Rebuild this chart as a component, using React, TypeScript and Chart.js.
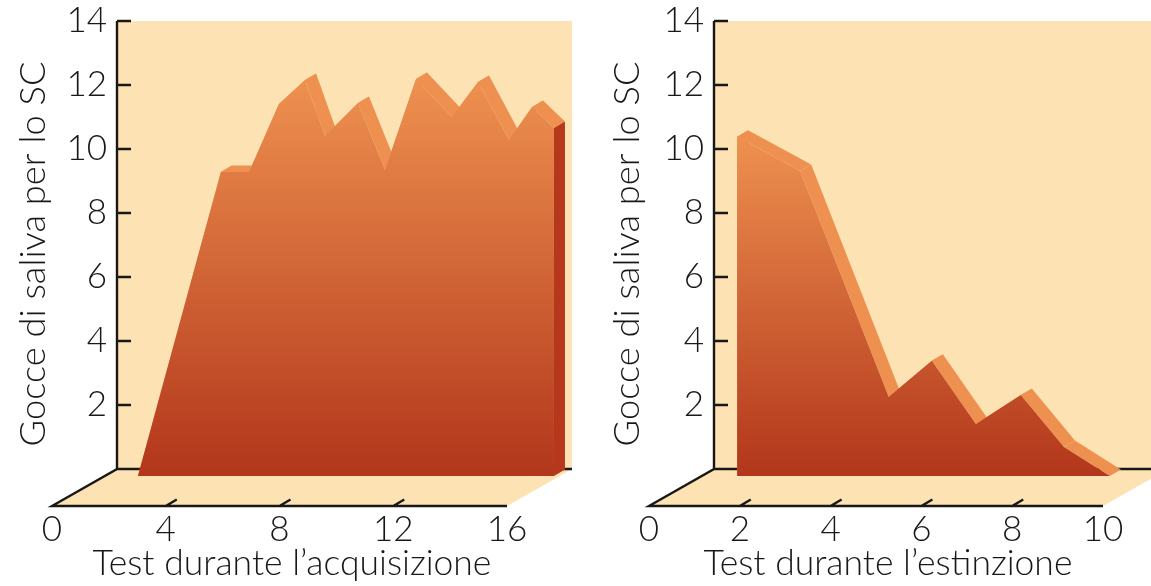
import React, { useEffect, useRef } from "react";
import { Chart, registerables } from "chart.js";

Chart.register(...registerables);

const yTicks = [2, 4, 6, 8, 10, 12, 14];
const yTitle = "Gocce di saliva per lo SC";

const acqTitle = "Test durante l\u2019acquisizione";
const acqXTicks = [0, 4, 8, 12, 16];
const acqX = [3.02, 5.94, 6.93, 7.98, 8.9, 9.6, 10.76, 11.71, 12.8, 14.06, 14.98, 16.07, 16.88, 17.65];
const acqY = [-0.22, 9.28, 9.28, 11.41, 12.16, 10.41, 11.44, 9.34, 12.19, 11.0, 12.09, 10.28, 11.31, 10.66];

const extTitle = "Test durante l\u2019estinzione";
const extXTicks = [0, 2, 4, 6, 8, 10];
const extX = [1.94, 1.94, 3.33, 5.28, 6.23, 7.2, 8.19, 9.14, 10.15];
const extY = [-0.22, 10.38, 9.31, 2.25, 3.38, 1.41, 2.31, 0.69, -0.22];

const BASE = -0.22;
const WALL = "#FDE3B3";
const LIGHT = "#EE9150";
const DARK = "#B5381C";
const INK = "#1a1816";
const FONT = "Lato";
const WEIGHT = 300;

type PanelProps = {
  left: number; width: number; axisLeft: number; pxPerUnit: number; wallRight: number;
  xTicks: number[]; xs: number[]; ys: number[]; title: string; yTitleX: number; xTitleX: number;
};

function Panel(p: PanelProps) {
  const ref = useRef<HTMLCanvasElement>(null);
  useEffect(() => {
    const DX = 65;
    const depth = { x: 11, y: -6.5 };
    const plugin = {
      id: "scene",
      beforeDatasetsDraw(chart: any) {
        const { ctx, chartArea: a, scales } = chart;
        const backY = scales.y.getPixelForValue(0);
        const backX = a.left + DX;
        const frontR = scales.x.getPixelForValue(p.xTicks[p.xTicks.length - 1]);
        const wallR = p.wallRight - p.left;
        ctx.save();
        ctx.fillStyle = WALL;
        ctx.fillRect(backX, a.top, wallR - backX, backY - a.top);
        ctx.beginPath();
        ctx.moveTo(backX, backY);
        ctx.lineTo(a.left, a.bottom);
        ctx.lineTo(frontR, a.bottom);
        ctx.lineTo(frontR + DX, backY);
        ctx.lineTo(wallR, backY);
        ctx.closePath();
        ctx.fill();
        ctx.strokeStyle = INK;
        ctx.lineWidth = 2.4;
        ctx.beginPath();
        ctx.moveTo(backX, a.top);
        ctx.lineTo(backX, backY);
        ctx.lineTo(a.left, a.bottom);
        ctx.lineTo(frontR, a.bottom);
        ctx.moveTo(backX, backY);
        ctx.lineTo(wallR, backY);
        yTicks.forEach((t) => {
          const y = scales.y.getPixelForValue(t);
          ctx.moveTo(backX, y);
          ctx.lineTo(backX + 14, y);
        });
        p.xTicks.slice(1, -1).forEach((t) => {
          const x = scales.x.getPixelForValue(t);
          ctx.moveTo(x, a.bottom);
          ctx.lineTo(x + 11, a.bottom - 6.5);
        });
        ctx.stroke();

        const pts = chart.getDatasetMeta(0).data;
        ctx.fillStyle = LIGHT;
        for (let i = 0; i < pts.length - 1; i++) {
          ctx.beginPath();
          ctx.moveTo(pts[i].x, pts[i].y);
          ctx.lineTo(pts[i + 1].x, pts[i + 1].y);
          ctx.lineTo(pts[i + 1].x + depth.x, pts[i + 1].y + depth.y);
          ctx.lineTo(pts[i].x + depth.x, pts[i].y + depth.y);
          ctx.closePath();
          ctx.fill();
        }
        const last = pts[pts.length - 1];
        const base = scales.y.getPixelForValue(BASE);
        ctx.fillStyle = DARK;
        ctx.beginPath();
        ctx.moveTo(last.x, last.y);
        ctx.lineTo(last.x + depth.x, last.y + depth.y);
        ctx.lineTo(last.x + depth.x, base + depth.y);
        ctx.lineTo(last.x, base);
        ctx.closePath();
        ctx.fill();
        ctx.restore();
      },
      afterDraw(chart: any) {
        const { ctx } = chart;
        ctx.save();
        ctx.fillStyle = INK;
        ctx.textAlign = "center";
        ctx.textBaseline = "middle";
        ctx.font = `${WEIGHT} 35.5px ${FONT}`;
        ctx.fillText(p.title, p.xTitleX - p.left, 564);
        ctx.font = `${WEIGHT} 36.3px ${FONT}`;
        ctx.translate(p.yTitleX - p.left, 254);
        ctx.rotate(-Math.PI / 2);
        ctx.fillText(yTitle, 0, 0);
        ctx.restore();
      },
    };
    const chart = new Chart(ref.current!, {
      type: "line",
      data: {
        datasets: [
          {
            data: p.xs.map((x, i) => ({ x, y: p.ys[i] })),
            clip: false,
            fill: { value: BASE },
            borderWidth: 0,
            pointRadius: 0,
            tension: 0,
            backgroundColor: (c: any) => {
              const { chart: ch } = c;
              if (!ch.chartArea) return LIGHT;
              const g = ch.ctx.createLinearGradient(
                0,
                ch.scales.y.getPixelForValue(Math.max(...p.ys)),
                0,
                ch.scales.y.getPixelForValue(BASE)
              );
              g.addColorStop(0, "#EE9150");
              g.addColorStop(1, "#B2361B");
              return g;
            },
          },
        ],
      } as any,
      options: {
        responsive: false,
        animation: false,
        layout: { autoPadding: false, padding: { left: p.axisLeft - p.left, right: 0, top: 21, bottom: 0 } },
        plugins: { legend: { display: false }, tooltip: { enabled: false } },
        scales: {
          x: {
            type: "linear",
            min: 0,
            max: (p.left + p.width - p.axisLeft) / p.pxPerUnit,
            border: { display: false },
            grid: { display: false, drawTicks: false },
            afterBuildTicks: (s: any) => { s.ticks = p.xTicks.map((value) => ({ value })); },
            afterFit: (s: any) => { s.height = 80; },
            ticks: { color: INK, padding: 3, autoSkip: false, maxRotation: 0, font: { family: FONT, size: 35, weight: WEIGHT } },
          },
          y: {
            type: "linear",
            position: { x: 55 / p.pxPerUnit },
            min: -485 / 32 + 14,
            max: 14,
            border: { display: false },
            grid: { display: false, drawTicks: false },
            afterBuildTicks: (s: any) => { s.ticks = yTicks.map((value) => ({ value })); },
            ticks: { color: INK, padding: 0, font: { family: FONT, size: 35, weight: WEIGHT } },
          },
        },
      } as any,
      plugins: [plugin],
    });
    return () => chart.destroy();
  }, []);
  return (
    <canvas
      ref={ref}
      width={p.width}
      height={586}
      style={{ position: "absolute", left: p.left, top: 0, display: "block" }}
    />
  );
}

export default function App() {
  return (
    <div style={{ position: "absolute", left: 0, top: 0, width: 1151, height: 586, background: "#fff", overflow: "hidden" }}>
      <Panel left={0} width={590} axisLeft={52} pxPerUnit={28.44} wallRight={572} xTicks={acqXTicks} xs={acqX} ys={acqY} title={acqTitle} yTitleX={33} xTitleX={292} />
      <Panel left={596} width={555} axisLeft={649} pxPerUnit={45.4} wallRight={1151} xTicks={extXTicks} xs={extX} ys={extY} title={extTitle} yTitleX={627} xTitleX={888} />
    </div>
  );
}
